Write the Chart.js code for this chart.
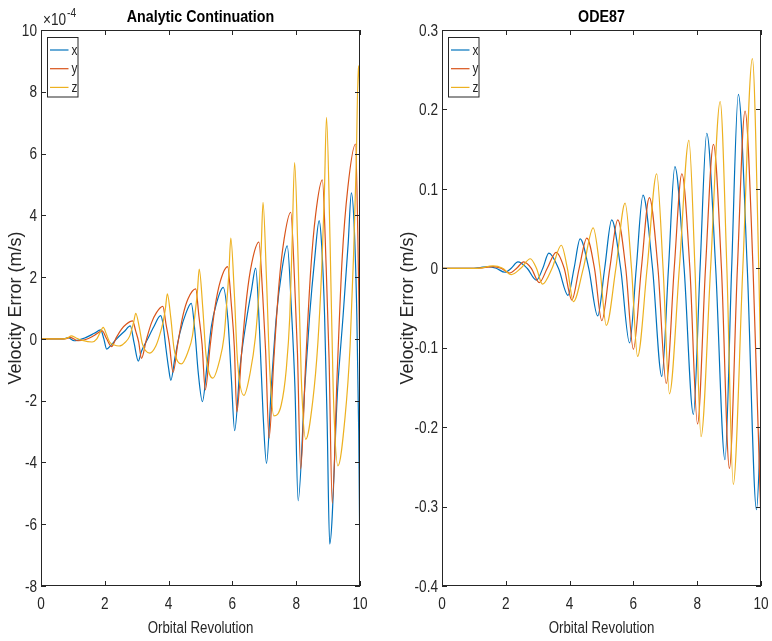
<!DOCTYPE html>
<html><head><meta charset="utf-8">
<script src="https://cdn.jsdelivr.net/npm/chart.js@4.4.1/dist/chart.umd.min.js"></script>
<style>html,body{margin:0;padding:0;background:#fff;width:772px;height:641px;overflow:hidden}
canvas{position:absolute;top:0}</style></head>
<body>
<canvas id="c1" width="386" height="641" style="left:0"></canvas>
<canvas id="c2" width="386" height="641" style="left:386px"></canvas>
<script>
// ---------- data ----------
const seriesNames = ['x', 'y', 'z'];
const seriesColors = ['#0072BD', '#D95319', '#EDB120'];
const xTicks = [0, 2, 4, 6, 8, 10];
const acTicks = [-8, -6, -4, -2, 0, 2, 4, 6, 8, 10];          // in units of 10^-4
const acExponent = -4;
const odeTicks = [-0.4, -0.3, -0.2, -0.1, 0, 0.1, 0.2, 0.3];

// Analytic Continuation (values in units of 10^-4 m/s), [orbital revolution, error]
const acX = [[0,0],[0.7,0],[0.85,0.04],[1.04,-0.06],[1.35,0.02],[1.67,0.18],[1.87,0.29],[1.97,0.0],[2.06,-0.33],[2.2,-0.2],[2.34,-0.03],[2.61,0.24],[2.8,0.42],[2.92,-0.14],[3.05,-0.72],[3.15,-0.4],[3.33,-0.03],[3.54,0.4],[3.75,0.75],[3.83,0.45],[3.91,-0.25],[4.0,-0.95],[4.07,-1.34],[4.2,-0.6],[4.35,0.18],[4.55,0.85],[4.71,1.15],[4.82,0.29],[4.93,-1.1],[5.06,-2.03],[5.2,-0.9],[5.34,0.4],[5.5,1.15],[5.71,1.67],[5.86,0.61],[5.97,-1.33],[6.07,-2.97],[6.24,-0.9],[6.44,0.61],[6.6,1.59],[6.73,2.29],[6.85,0.29],[6.96,-2.4],[7.07,-4.03],[7.22,-1.55],[7.38,0.75],[7.54,2.14],[7.72,3.01],[7.86,0.75],[7.96,-1.55],[8.06,-5.24],[8.27,-1.55],[8.42,0.75],[8.58,2.6],[8.72,3.83],[8.8,3.0],[8.89,0.75],[8.97,-2.7],[9.05,-6.64],[9.3,-1.6],[9.47,0.75],[9.63,3.1],[9.73,4.73],[9.82,3.6],[9.9,0.8],[9.96,-3.0],[10,-7.6]];
const acY = [[0,0],[0.75,0],[0.92,0.05],[1.15,-0.06],[1.4,-0.02],[1.65,0.1],[1.92,0.26],[2.05,0.02],[2.21,-0.25],[2.36,0.04],[2.52,0.31],[2.68,0.48],[2.87,0.58],[2.97,0.25],[3.06,-0.09],[3.15,-0.63],[3.3,-0.04],[3.46,0.51],[3.62,0.85],[3.82,1.05],[3.92,0.47],[4.02,-0.12],[4.14,-1.08],[4.29,-0.14],[4.45,0.76],[4.61,1.3],[4.85,1.62],[4.95,0.74],[5.05,-0.18],[5.15,-1.65],[5.3,-0.25],[5.46,1.06],[5.62,1.86],[5.85,2.34],[5.97,1.07],[6.06,-0.25],[6.14,-2.37],[6.29,-0.44],[6.45,1.37],[6.61,2.47],[6.83,3.13],[6.95,1.42],[7.04,-0.36],[7.15,-3.21],[7.3,-0.65],[7.46,1.76],[7.62,3.22],[7.83,4.1],[7.95,1.86],[8.04,-0.47],[8.14,-4.21],[8.29,-0.93],[8.45,2.15],[8.61,4.03],[8.82,5.15],[8.94,2.32],[9.03,-0.61],[9.13,-5.32],[9.28,-1.25],[9.44,2.59],[9.62,4.91],[9.86,6.31],[9.93,3.5],[10,-1.0]];
const acZ = [[0,0],[0.7,0],[0.85,0.04],[0.95,0.1],[1.1,0.03],[1.3,-0.05],[1.6,-0.1],[1.75,0.0],[1.85,0.2],[1.95,0.37],[2.05,0.15],[2.15,-0.1],[2.3,-0.2],[2.45,-0.23],[2.65,-0.1],[2.78,0.09],[2.85,0.33],[2.91,0.57],[2.97,0.83],[3.08,0.38],[3.18,-0.17],[3.41,-0.46],[3.6,-0.23],[3.72,0.12],[3.83,0.56],[3.9,0.98],[3.96,1.46],[4.07,0.67],[4.17,-0.31],[4.4,-0.81],[4.6,-0.44],[4.75,0.11],[4.83,0.82],[4.9,1.49],[4.96,2.26],[5.07,1.02],[5.17,-0.49],[5.39,-1.27],[5.59,-0.73],[5.74,0.09],[5.82,1.13],[5.89,2.13],[5.95,3.26],[6.06,1.48],[6.16,-0.71],[6.36,-1.83],[6.56,-1.08],[6.72,0.05],[6.83,1.48],[6.9,2.86],[6.96,4.42],[7.07,1.9],[7.17,-0.97],[7.3,-2.49],[7.53,-2.14],[7.69,-0.97],[7.8,0.75],[7.87,3.06],[7.95,5.71],[8.06,2.57],[8.16,-1.28],[8.3,-3.25],[8.52,-2.0],[8.68,-0.12],[8.8,2.27],[8.88,4.57],[8.95,7.17],[9.06,3.22],[9.16,-1.63],[9.31,-4.11],[9.53,-2.55],[9.69,-0.22],[9.8,2.76],[9.88,5.61],[9.95,8.85],[10,7.68]];

// ODE87 (m/s)
const odeX = [[0,0],[1.0,0],[1.2,0.001],[1.45,0.002],[1.7,0],[1.97,-0.005],[2.17,0],[2.38,0.008],[2.67,0],[2.96,-0.015],[3.16,0],[3.35,0.019],[3.65,0],[3.95,-0.034],[4.14,0],[4.33,0.037],[4.6,0],[4.88,-0.06],[5.1,0],[5.32,0.061],[5.6,0],[5.88,-0.094],[6.09,0],[6.3,0.092],[6.6,0],[6.89,-0.136],[7.1,0],[7.3,0.128],[7.59,0],[7.88,-0.184],[8.09,0],[8.3,0.17],[8.58,0],[8.87,-0.241],[9.08,0],[9.29,0.219],[9.57,0],[9.86,-0.304],[10,-0.19]];
const odeY = [[0,0],[1.1,0],[1.35,0.001],[1.6,0.002],[1.85,0],[2.12,-0.006],[2.34,0],[2.56,0.008],[2.8,0],[3.05,-0.018],[3.3,0],[3.58,0.02],[3.83,0],[4.07,-0.04],[4.3,0],[4.54,0.038],[4.78,0],[5.01,-0.066],[5.26,0],[5.51,0.061],[5.76,0],[6.0,-0.102],[6.25,0],[6.5,0.089],[6.77,0],[7.03,-0.145],[7.28,0],[7.52,0.119],[7.77,0],[8.01,-0.196],[8.26,0],[8.51,0.156],[8.76,0],[9.01,-0.252],[9.26,0],[9.5,0.198],[9.75,0],[10,-0.32]];
const odeZ = [[0,0],[1.1,0],[1.6,0.003],[1.9,0],[2.17,-0.008],[2.47,0],[2.77,0.012],[2.96,0],[3.15,-0.02],[3.45,0],[3.74,0.029],[3.93,0],[4.12,-0.042],[4.43,0],[4.74,0.051],[4.95,0],[5.15,-0.072],[5.45,0],[5.74,0.082],[5.94,0],[6.13,-0.111],[6.43,0],[6.73,0.119],[6.93,0],[7.13,-0.158],[7.44,0],[7.74,0.161],[7.93,0],[8.12,-0.212],[8.42,0],[8.72,0.21],[8.93,0],[9.13,-0.272],[9.43,0],[9.73,0.264],[9.93,0],[10,-0.14]];

// ---------- drawing ----------
const AX = '#262626';
const FONT = '"Liberation Sans", Arial, sans-serif';
function txt(ctx, s, x, y, font, sx, align, rot, color) {
  ctx.save();
  ctx.translate(x, y);
  if (rot) ctx.rotate(rot);
  ctx.scale(sx, 1);
  ctx.font = font;
  ctx.textAlign = align;
  ctx.textBaseline = 'alphabetic';
  ctx.fillStyle = color || AX;
  ctx.fillText(s, 0, 0);
  ctx.restore();
}

const matlabAxes = {
  id: 'matlabAxes',
  afterDraw(chart, args, o) {
    const ctx = chart.ctx, a = chart.chartArea, xs = chart.scales.x, ys = chart.scales.y;
    const L = Math.round(a.left), R = Math.round(a.right), T = Math.round(a.top), B = Math.round(a.bottom);
    ctx.save();
    ctx.strokeStyle = AX; ctx.lineWidth = 1;
    ctx.strokeRect(L + 0.5, T + 0.5, R - L - 1, B - T - 1);
    ctx.beginPath();
    xs.ticks.forEach(t => {
      const p = Math.round(xs.getPixelForValue(t.value)) + 0.5;
      ctx.moveTo(p, B); ctx.lineTo(p, B - 5);
      ctx.moveTo(p, T); ctx.lineTo(p, T + 5);
    });
    ys.ticks.forEach(t => {
      const p = Math.round(ys.getPixelForValue(t.value)) + 0.5;
      ctx.moveTo(L, p); ctx.lineTo(L + 5, p);
      ctx.moveTo(R, p); ctx.lineTo(R - 5, p);
    });
    ctx.stroke();
    // tick labels
    xs.ticks.forEach(t => {
      txt(ctx, String(t.value), xs.getPixelForValue(t.value), B + 23, '16px ' + FONT, 0.85, 'center');
    });
    ys.ticks.forEach(t => {
      txt(ctx, o.fmt(t.value), L - 4, ys.getPixelForValue(t.value) + 5.7, '16px ' + FONT, 0.85, 'right');
    });
    // title and labels
    const cx = (L + R) / 2;
    txt(ctx, o.title, cx, 22, 'bold 17px ' + FONT, 0.84, 'center', 0, '#000');
    txt(ctx, 'Orbital Revolution', cx, 633, '16px ' + FONT, 0.83, 'center');
    txt(ctx, 'Velocity Error (m/s)', o.ylabX, 308, '18px ' + FONT, 1.0, 'center', -Math.PI / 2);
    if (o.exponent !== undefined) {
      txt(ctx, '\u00d710', L + 2, 25, '16px ' + FONT, 0.85, 'left');
      txt(ctx, String(o.exponent), L + 26, 17, '12px ' + FONT, 0.85, 'left');
    }
    // legend
    const bx = L + 6, by = T + 7, bw = 30.5, bh = 59.5;
    ctx.fillStyle = '#fff';
    ctx.fillRect(bx, by, bw, bh);
    ctx.strokeStyle = AX; ctx.lineWidth = 1;
    ctx.strokeRect(bx + 0.5, by + 0.5, bw, bh);
    chart.data.datasets.forEach((d, i) => {
      const yy = T + 20 + i * 18.7;
      ctx.strokeStyle = d.borderColor; ctx.lineWidth = 1.2;
      ctx.beginPath(); ctx.moveTo(L + 9, yy); ctx.lineTo(L + 27.5, yy); ctx.stroke();
      txt(ctx, d.label, L + 30.5, yy + 4.5, '14px ' + FONT, 0.85, 'left');
    });
    ctx.restore();
  }
};

function makeChart(id, title, series, yTicks, fmt, geom, exponent) {
  const datasets = series.map((s, i) => ({
    label: seriesNames[i],
    data: s.map(p => ({ x: p[0], y: p[1] })),
    borderColor: seriesColors[i],
    backgroundColor: seriesColors[i],
    borderWidth: 1.2,
    pointRadius: 0,
    fill: false,
    cubicInterpolationMode: 'monotone',
    order: 3 - i
  }));
  return new Chart(document.getElementById(id), {
    type: 'line',
    data: { datasets },
    plugins: [matlabAxes],
    options: {
      responsive: false, animation: false, events: [],
      layout: { padding: { left: 0, top: 30, right: geom.pr, bottom: 0 } },
      plugins: {
        legend: { display: false }, tooltip: { enabled: false }, title: { display: false },
        matlabAxes: { title, fmt, ylabX: geom.ylabX, exponent }
      },
      scales: {
        x: {
          type: 'linear', min: xTicks[0], max: xTicks[xTicks.length - 1],
          grid: { display: false }, border: { display: false }, ticks: { display: false },
          afterBuildTicks: s => { s.ticks = xTicks.map(v => ({ value: v })); },
          afterFit: s => { s.height = 55; }
        },
        y: {
          type: 'linear', min: yTicks[0], max: yTicks[yTicks.length - 1],
          grid: { display: false }, border: { display: false }, ticks: { display: false },
          afterBuildTicks: s => { s.ticks = yTicks.map(v => ({ value: v })); },
          afterFit: s => { s.width = geom.yw; }
        }
      }
    }
  });
}

makeChart('c1', 'Analytic Continuation', [acX, acY, acZ], acTicks, v => String(v),
  { yw: 41, pr: 26, ylabX: 20.5 }, acExponent);
makeChart('c2', 'ODE87', [odeX, odeY, odeZ], odeTicks, v => (v === 0 ? '0' : v.toFixed(1)),
  { yw: 56, pr: 11, ylabX: 412.5 - 386 });
</script>
</body></html>
